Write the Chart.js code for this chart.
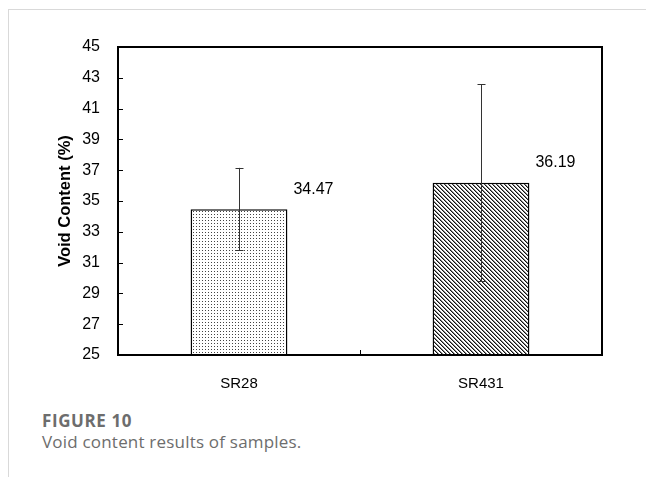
<!DOCTYPE html>
<html><head><meta charset="utf-8">
<script src="https://cdn.jsdelivr.net/npm/chart.js@4"></script>
<style>
html,body{margin:0;padding:0;background:#fff;width:646px;height:477px;overflow:hidden;}
#card{position:absolute;left:8px;top:9px;width:640px;height:470px;border-left:1px solid #d9d9d9;border-top:1px solid #d9d9d9;}
#wrap{position:absolute;left:0;top:0;width:646px;height:400px;}
#cap1{position:absolute;left:42px;top:409px;line-height:23px;font-family:"Open Sans",sans-serif;font-weight:bold;font-size:17px;letter-spacing:0.6px;color:#6d6d6d;white-space:nowrap;}
#cap2{position:absolute;left:42px;top:430px;line-height:23px;font-family:"Open Sans",sans-serif;font-size:17px;letter-spacing:0.2px;color:#6d6d6d;white-space:nowrap;}
</style></head>
<body>
<div id="card"></div>
<div id="wrap"><canvas id="c" width="646" height="400"></canvas></div>
<div id="cap1">FIGURE 10</div>
<div id="cap2">Void content results of samples.</div>
<script>
const categories = ["SR28", "SR431"];
const voidContent = [34.47, 36.19];
const errorValues = [2.68, 6.4];
const yTicks = [25, 27, 29, 31, 33, 35, 37, 39, 41, 43, 45];

function makePattern(kind){
  const p = document.createElement('canvas');
  const n = kind === 'dots' ? 3 : 4;
  p.width = n; p.height = n;
  const g = p.getContext('2d');
  g.fillStyle = '#fff'; g.fillRect(0,0,n,n);
  if(kind === 'dots'){
    g.fillStyle = '#444';
    g.fillRect(1,1,1,1);
  } else {
    for(let i=0;i<4;i++){
      g.fillStyle = '#111'; g.fillRect(i,i,1,1);
      g.fillStyle = '#888'; g.fillRect((i+1)%4,i,1,1);
    }
  }
  return document.getElementById('c').getContext('2d').createPattern(p,'repeat');
}

const FONT = '"Liberation Sans", Arial, sans-serif';

const extras = {
  id:'extras',
  afterDatasetsDraw(chart){
    const ctx = chart.ctx, ca = chart.chartArea;
    const ys = chart.scales.y, xs = chart.scales.x;
    const meta = chart.getDatasetMeta(0);
    ctx.save();
    meta.data.forEach((bar,i)=>{
      const x = Math.round(bar.x)+0.5;
      const yT = ys.getPixelForValue(voidContent[i]+errorValues[i]);
      const yB = ys.getPixelForValue(voidContent[i]-errorValues[i]);
      ctx.strokeStyle = '#333'; ctx.lineWidth = 1;
      ctx.beginPath();
      ctx.moveTo(x,yT); ctx.lineTo(x,yB);
      ctx.moveTo(x-4,Math.round(yT)+0.5); ctx.lineTo(x+4,Math.round(yT)+0.5);
      ctx.moveTo(x-4,Math.round(yB)+0.5); ctx.lineTo(x+4,Math.round(yB)+0.5);
      ctx.stroke();
      ctx.fillStyle = '#000';
      ctx.font = '16px ' + FONT;
      ctx.textAlign = 'left'; ctx.textBaseline = 'middle';
      ctx.fillText(voidContent[i].toFixed(2), bar.x + bar.width/2 + 6, ys.getPixelForValue(voidContent[i]) - 20);
    });
    ctx.strokeStyle = '#000'; ctx.lineWidth = 2;
    ctx.strokeRect(ca.left, ca.top, ca.right-ca.left, ca.bottom-ca.top);
    ctx.lineWidth = 1;
    ys.ticks.forEach((t,i)=>{
      const y = Math.round(ys.getPixelForTick(i))+0.5;
      ctx.beginPath(); ctx.moveTo(ca.left, y); ctx.lineTo(ca.left+5, y); ctx.stroke();
    });
    const mid = Math.round((xs.getPixelForTick(0)+xs.getPixelForTick(1))/2)+0.5;
    ctx.beginPath(); ctx.moveTo(mid, ca.bottom); ctx.lineTo(mid, ca.bottom-5); ctx.stroke();
    ctx.restore();
  }
};

new Chart(document.getElementById('c'), {
  type:'bar',
  data:{
    labels: categories,
    datasets:[{
      data: voidContent,
      backgroundColor: [makePattern('dots'), makePattern('diag')],
      borderColor:'#000',
      borderWidth:1.5,
      categoryPercentage:0.4,
      barPercentage:1.0
    }]
  },
  options:{
    responsive:false,
    animation:false,
    events:[],
    layout:{padding:{left:52, top:47, right:44, bottom:0}},
    plugins:{legend:{display:false}, tooltip:{enabled:false}},
    scales:{
      x:{
        grid:{display:false, drawTicks:false},
        border:{display:false},
        ticks:{color:'#000', font:{family:FONT, size:15}, padding:20},
        afterFit(s){ s.height = 45; }
      },
      y:{
        min:25, max:45,
        afterBuildTicks(s){ s.ticks = yTicks.map(v=>({value:v})); },
        grid:{display:false, drawTicks:false},
        border:{display:false},
        ticks:{color:'#000', font:{family:FONT, size:16}, padding:18},
        title:{display:true, text:'Void Content (%)', color:'#000', font:{family:FONT, size:16.5, weight:'bold'}},
        afterFit(s){ s.width = 66; }
      }
    }
  },
  plugins:[extras]
});
</script>
</body></html>
